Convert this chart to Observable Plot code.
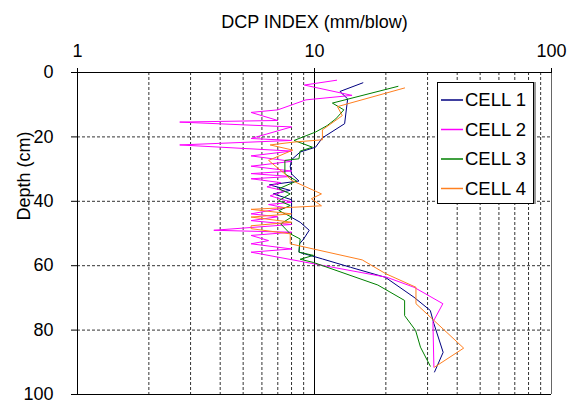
<!DOCTYPE html>
<html>
<head>
<meta charset="utf-8">
<script src="https://cdn.jsdelivr.net/npm/d3@7"></script>
<script src="https://cdn.jsdelivr.net/npm/@observablehq/plot@0.6"></script>
<style>
  body { margin: 0; background: #fff; }
  #wrap { position: relative; width: 577px; height: 403px; font-family: "Liberation Sans", Arial, sans-serif; }
  #legend { position: absolute; left: 437px; top: 82px; width: 95px; height: 120px; border: 1px solid #000; background: #fff; box-shadow: 2px 0 0 #999; }
</style>
</head>
<body>
<div id="wrap"><div id="legend"></div></div>
<script>
const cells = ["CELL 1", "CELL 2", "CELL 3", "CELL 4"];
const colors = ["#000080", "#ff00ff", "#008000", "#ff8020"];

const cell1Depth = [3.2, 5.9, 8.2, 15.9, 20.3, 23.2, 24.7, 27.1, 29.2, 31.5, 33.7, 34.9, 36.6, 37.7, 39.5, 45, 46.5, 49, 51.7, 53.2, 55.8, 57.9, 60.5, 63.6, 69.8, 73.9, 78, 86.9, 93];
const cell1Dcp   = [16.0, 12.8, 13.8, 13.4, 10.8, 10.1, 8.7, 8.0, 7.9, 8.0, 8.6, 6.45, 7.9, 6.7, 8.0, 8.0, 8.7, 9.5, 9.0, 8.65, 8.6, 10.8, 14.2, 19.9, 26.3, 30.8, 31.9, 34.9, 32.1];

const cell2Depth = [2.4, 3.9, 7.1, 8.5, 11.6, 12.4, 14.9, 15.4, 16.9, 20.5, 21.1, 22.5, 24.4, 25.9, 27.6, 29.1, 30.6, 31.4, 32.3, 33.0, 34.2, 35.5, 36.8, 38.3, 40.3, 41.0, 42.0, 43.9, 44.8, 46.0, 47.2, 49.0, 49.6, 50.6, 52.2, 53.2, 54.8, 55.8, 63.6, 66.7, 71.8, 77.5, 91.5];
const cell2Dcp   = [12.4, 9.06, 14.4, 9.2, 7.0, 5.4, 7.0, 2.7, 8.0, 5.4, 8.0, 2.7, 8.0, 5.4, 8.0, 5.4, 8.0, 5.4, 8.0, 5.4, 7.2, 6.3, 7.5, 6.5, 8.0, 6.4, 7.5, 5.4, 7.0, 5.4, 8.0, 3.76, 8.0, 5.4, 6.4, 5.4, 8.0, 5.4, 20.2, 26.3, 34.8, 31.6, 31.9];

const cell3Depth = [4.3, 9.5, 11.6, 14.4, 16.5, 18.5, 21.1, 23.2, 24.4, 26.8, 27.3, 31.5, 33.7, 36.1, 37.7, 39.8, 41.3, 42.9, 44.9, 47.0, 50.1, 51.7, 55.8, 56.8, 58.0, 59.0, 66.0, 70.8, 75.5, 80.1, 85.3, 91.2];
const cell3Dcp   = [22.5, 11.9, 13.3, 12.3, 11.3, 10.1, 8.2, 9.8, 8.7, 8.6, 7.5, 7.5, 8.4, 7.07, 7.9, 7.07, 7.9, 7.07, 8.0, 7.2, 7.9, 8.7, 8.6, 9.9, 8.7, 9.9, 18.5, 24.0, 24.0, 26.7, 28.0, 30.8];

const cell4Depth = [4.8, 10.6, 13.4, 17.8, 20.9, 21.6, 22.5, 24.1, 27.3, 31.5, 33.5, 37.7, 39.2, 41.4, 42.5, 43.9, 44.9, 46.5, 47.6, 48.5, 50.1, 53.2, 58.2, 62.5, 66.7, 71.8, 85.6, 91.5];
const cell4Dcp   = [24.0, 12.5, 13.1, 10.8, 10.8, 8.2, 6.5, 8.1, 6.4, 7.5, 8.0, 10.7, 9.7, 10.7, 5.4, 8.0, 5.4, 8.0, 5.4, 5.4, 7.9, 7.9, 15.9, 20.0, 26.8, 26.8, 42.6, 32.1];

const xTicks = [1, 10, 100];
const xMinor = [2, 3, 4, 5, 6, 7, 8, 9, 20, 30, 40, 50, 60, 70, 80, 90];
const yTicks = [0, 20, 40, 60, 80, 100];
const yGrid = [20, 40, 60, 80];

const depths = [cell1Depth, cell2Depth, cell3Depth, cell4Depth];
const dcps = [cell1Dcp, cell2Dcp, cell3Dcp, cell4Dcp];
const data = cells.flatMap((c, i) => depths[i].map((d, j) => ({cell: c, depth: d, dcp: dcps[i][j]})));

const chart = Plot.plot({
  width: 577,
  height: 403,
  marginLeft: 77,
  marginRight: 26,
  marginTop: 72,
  marginBottom: 9,
  style: {fontFamily: "'Liberation Sans', Arial, sans-serif", background: "#fff"},
  x: {type: "log", domain: [1, 100]},
  y: {domain: [0, 100], reverse: true},
  color: {domain: cells, range: colors},
  marks: [
    Plot.ruleX(xMinor, {stroke: "#333", strokeDasharray: "3,2", strokeWidth: 1}),
    Plot.ruleY(yGrid, {stroke: "#333", strokeDasharray: "3,2", strokeWidth: 1}),
    Plot.ruleX([10], {stroke: "#000", strokeWidth: 1}),
    Plot.ruleX([100], {stroke: "#666", strokeWidth: 1}),
    Plot.ruleX([1], {stroke: "#000", strokeWidth: 1}),
    Plot.ruleY([0, 100], {stroke: "#000", strokeWidth: 1}),
    Plot.line(data, {x: "dcp", y: "depth", z: "cell", stroke: "cell", strokeWidth: 1, curve: "linear"}),
    Plot.axisX(xTicks, {anchor: "top", tickSize: 5, tickPadding: 11, fontSize: 18, label: null, tickFormat: d => String(d)}),
    Plot.axisY(yTicks, {anchor: "left", tickSize: 6, tickPadding: 18, fontSize: 18, label: null, tickFormat: d => String(d)}),
    Plot.text(["DCP INDEX (mm/blow)"], {text: d => d, frameAnchor: "top", dy: -50, fontSize: 18, lineAnchor: "middle"}),
    Plot.text(["Depth (cm)"], {text: d => d, frameAnchor: "left", rotate: -90, dx: -53, dy: -13, fontSize: 18, lineAnchor: "middle"})
  ]
});
document.getElementById("wrap").prepend(chart);

// Legend
const ns = "http://www.w3.org/2000/svg";
const lsvg = document.createElementNS(ns, "svg");
lsvg.setAttribute("width", 95);
lsvg.setAttribute("height", 120);
lsvg.style.display = "block";
const rowY = [17, 46.5, 76, 105.5];
cells.forEach((c, i) => {
  const ln = document.createElementNS(ns, "line");
  ln.setAttribute("x1", 3); ln.setAttribute("x2", 25);
  ln.setAttribute("y1", rowY[i]); ln.setAttribute("y2", rowY[i]);
  ln.setAttribute("stroke", colors[i]); ln.setAttribute("stroke-width", 1.5);
  lsvg.appendChild(ln);
  const t = document.createElementNS(ns, "text");
  t.setAttribute("x", 27); t.setAttribute("y", rowY[i]);
  t.setAttribute("dy", "0.35em");
  t.setAttribute("font-size", 18.5);
  t.setAttribute("font-family", "'Liberation Sans', Arial, sans-serif");
  t.textContent = c;
  lsvg.appendChild(t);
});
document.getElementById("legend").appendChild(lsvg);
</script>
</body>
</html>
